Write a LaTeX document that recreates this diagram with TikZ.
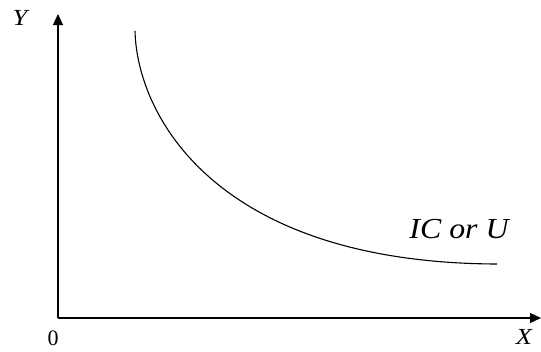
\documentclass[tikz,border=0pt]{standalone}
\usepackage{fontspec}
\setmainfont{Liberation Serif}
\usetikzlibrary{arrows.meta}
\begin{document}
\begin{tikzpicture}[x=1pt,y=-1pt,
  axis/.style={line width=1.2pt,-{Triangle[length=11pt,width=10pt]}},
  curve/.style={line width=1.1pt},
  lab/.style={inner sep=0pt,font=\fontsize{23}{23}\selectfont\itshape,xscale=1.15},
  biglab/.style={inner sep=0pt,font=\fontsize{29}{29}\selectfont\itshape,xscale=1.1}]
\useasboundingbox (0,0) rectangle (541,351);
\coordinate (O) at (58,318);
\coordinate (ytip) at (58,14);
\coordinate (xtip) at (541,318);
\draw[axis] (O) -- (ytip);
\draw[axis] (O) -- (xtip);
\coordinate (cs) at (135,31);
\coordinate (ce) at (497,264);
\draw[curve] (cs) .. controls (137,115) and (215,263) .. (ce);
\node[lab] (ly) at (20,18) {Y};
\node[lab] (lx) at (524,337) {X};
\node[inner sep=0pt,font=\fontsize{22}{22}\selectfont] (lo) at (53,338) {0};
\node[biglab] (lic) at (459,229) {IC or U};
\end{tikzpicture}
\end{document}
